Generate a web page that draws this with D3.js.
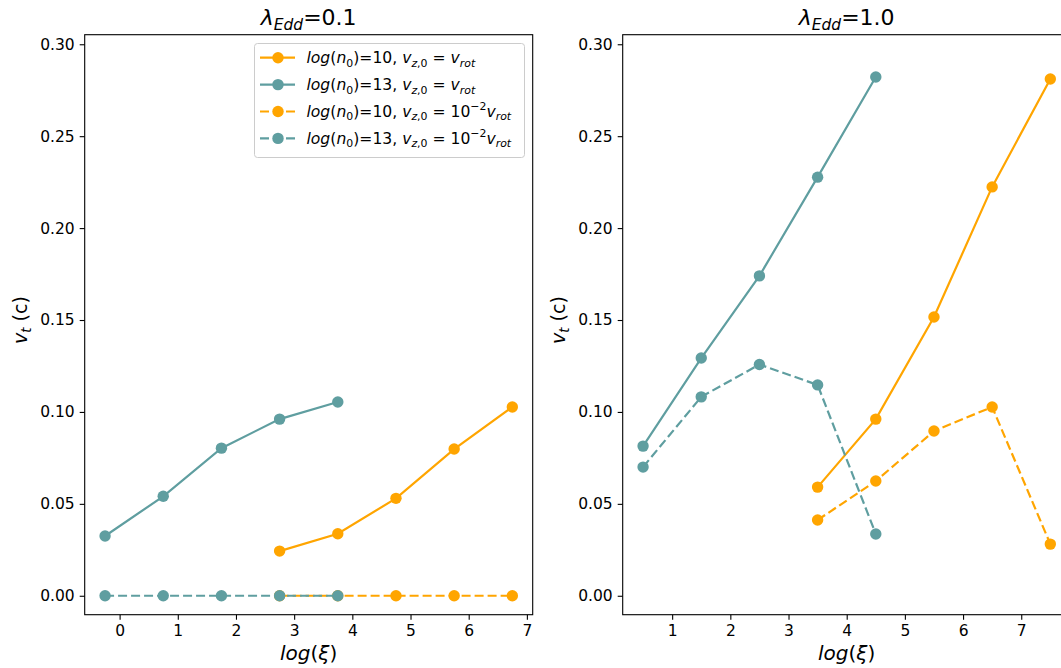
<!DOCTYPE html>
<html>
<head>
<meta charset="utf-8">
<script src="https://cdn.jsdelivr.net/npm/d3@7"></script>
<style>
  html, body { margin: 0; padding: 0; background: #fff; }
  svg { display: block; font-family: "DejaVu Sans", sans-serif; }
</style>
</head>
<body>
<svg id="fig" width="1061" height="668"></svg>
<script>
// Terminal velocity v_t (in units of c) against ionisation parameter log(xi)
// for two densities and two initial vertical velocities.

// --- lambda_Edd = 0.1 ---
const xiLeftN13 = [-0.25, 0.75, 1.75, 2.75, 3.75];
const xiLeftN10 = [2.75, 3.75, 4.75, 5.75, 6.75];
const leftN10Rot  = [0.0243, 0.0337, 0.0530, 0.0798, 0.1027];
const leftN13Rot  = [0.0325, 0.0541, 0.0803, 0.0961, 0.1054];
const leftN10Slow = [0, 0, 0, 0, 0];
const leftN13Slow = [0, 0, 0, 0, 0];

// --- lambda_Edd = 1.0 ---
const xiRightN13 = [0.5, 1.5, 2.5, 3.5, 4.5];
const xiRightN10 = [3.5, 4.5, 5.5, 6.5, 7.5];
const rightN10Rot  = [0.0591, 0.0961, 0.1516, 0.2224, 0.2811];
const rightN13Rot  = [0.0814, 0.1293, 0.1740, 0.2277, 0.2822];
const rightN10Slow = [0.0412, 0.0624, 0.0896, 0.1027, 0.0281];
const rightN13Slow = [0.0700, 0.1082, 0.1258, 0.1147, 0.0336];

const yTicks = [0, 0.05, 0.10, 0.15, 0.20, 0.25, 0.30];
const xTicksLeft = [0, 1, 2, 3, 4, 5, 6, 7];
const xTicksRight = [1, 2, 3, 4, 5, 6, 7];

const ORANGE = "#FFA500";
const TEAL = "#5F9EA0";

const svg = d3.select("#fig");

// Render a label mixing upright/italic runs with sub- and superscripts.
function mathText(textSel, parts, size) {
  let cur = 0;
  parts.forEach(p => {
    const target = p.pos === "sub" ? 0.22 * size : p.pos === "sup" ? -0.42 * size : 0;
    const fs = p.pos ? size * 0.7 : size;
    textSel.append("tspan")
      .attr("dy", target - cur)
      .attr("font-size", fs)
      .attr("font-style", p.it ? "italic" : "normal")
      .style("white-space", "pre")
      .text(p.t);
    cur = target;
  });
  return textSel;
}

const I = (t, pos) => ({ t, it: true, pos });
const U = (t, pos) => ({ t, it: false, pos });

function labelParts(n, slow) {
  const base = [I("log"), U("("), I("n"), U("0", "sub"), U(")"), U("=" + n + ", "),
                I("v"), I("z", "sub"), U(",0", "sub")];
  if (slow) return base.concat([U(" = 10"), U("\u22122", "sup"), I("v"), I("rot", "sub")]);
  return base.concat([U(" = "), I("v"), I("rot", "sub")]);
}

const series = [
  { color: ORANGE, dash: null, parts: labelParts(10, false) },
  { color: TEAL, dash: null, parts: labelParts(13, false) },
  { color: ORANGE, dash: "9,4", parts: labelParts(10, true) },
  { color: TEAL, dash: "9,4", parts: labelParts(13, true) }
];

const y = d3.scaleLinear().domain([-0.0103, 0.3052]).range([614.7, 34.7]);

function panel(cfg) {
  const x = d3.scaleLinear().domain(cfg.xDomain).range(cfg.xRange);
  const g = svg.append("g");

  const clipId = "clip" + cfg.id;
  svg.append("clipPath").attr("id", clipId)
    .append("rect").attr("x", cfg.xRange[0]).attr("y", 34.7)
    .attr("width", cfg.xRange[1] - cfg.xRange[0]).attr("height", 580);

  const plot = g.append("g").attr("clip-path", `url(#${clipId})`);
  const line = d3.line().x(d => x(d[0])).y(d => y(d[1]));

  cfg.data.forEach((s, i) => {
    const st = series[i];
    const pts = s.xs.map((v, k) => [v, s.ys[k]]);
    plot.append("path").datum(pts)
      .attr("d", line)
      .attr("fill", "none")
      .attr("stroke", st.color)
      .attr("stroke-width", 2.2)
      .attr("stroke-dasharray", st.dash);
    plot.selectAll(null).data(pts).enter().append("circle")
      .attr("cx", d => x(d[0])).attr("cy", d => y(d[1]))
      .attr("r", 5.7).attr("fill", st.color);
  });

  // axes
  const xAxis = d3.axisBottom(x).tickValues(cfg.xTicks).tickFormat(d3.format("d"))
    .tickSize(5).tickPadding(5);
  const yAxis = d3.axisLeft(y).tickValues(yTicks).tickFormat(d3.format(".2f"))
    .tickSize(5).tickPadding(5);

  const gx = g.append("g").attr("transform", "translate(0,614.7)").call(xAxis);
  const gy = g.append("g").attr("transform", `translate(${cfg.xRange[0]},0)`).call(yAxis);
  [gx, gy].forEach(a => {
    a.select(".domain").remove();
    a.selectAll("line").attr("stroke", "#000").attr("stroke-width", 1.1);
    a.selectAll("text").attr("font-size", 15.5).attr("fill", "#000")
      .attr("font-family", "DejaVu Sans");
  });

  // frame
  g.append("rect")
    .attr("x", cfg.xRange[0]).attr("y", 34.7)
    .attr("width", cfg.xRange[1] - cfg.xRange[0]).attr("height", 580)
    .attr("fill", "none").attr("stroke", "#000").attr("stroke-width", 1.1);

  const cx = (cfg.xRange[0] + cfg.xRange[1]) / 2;
  // title
  mathText(g.append("text").attr("x", cx).attr("y", 25).attr("text-anchor", "middle"),
    [I("\u03bb"), I("Edd", "sub"), U("=" + cfg.lambda)], 22);
  // x label
  mathText(g.append("text").attr("x", cx).attr("y", 660).attr("text-anchor", "middle"),
    [I("log"), U("("), I("\u03be"), U(")")], 20);
  // y label
  mathText(g.append("text")
      .attr("transform", `translate(${cfg.xRange[0] - 58},${y(0.15)}) rotate(-90)`)
      .attr("text-anchor", "middle"),
    [I("v"), I("t", "sub"), U(" (c)")], 19);

  return g;
}

const left = panel({
  id: "L", xDomain: [-0.6, 7.1], xRange: [84.7, 532.7], xTicks: xTicksLeft, lambda: "0.1",
  data: [
    { xs: xiLeftN10, ys: leftN10Rot },
    { xs: xiLeftN13, ys: leftN13Rot },
    { xs: xiLeftN10, ys: leftN10Slow },
    { xs: xiLeftN13, ys: leftN13Slow }
  ]
});

panel({
  id: "R", xDomain: [0.15, 7.85], xRange: [622.7, 1070.7], xTicks: xTicksRight, lambda: "1.0",
  data: [
    { xs: xiRightN10, ys: rightN10Rot },
    { xs: xiRightN13, ys: rightN13Rot },
    { xs: xiRightN10, ys: rightN10Slow },
    { xs: xiRightN13, ys: rightN13Slow }
  ]
});

// legend in the first panel
const lg = left.append("g");
lg.append("rect")
  .attr("x", 254.5).attr("y", 43.5).attr("width", 270).attr("height", 114)
  .attr("rx", 3).attr("fill", "#fff").attr("fill-opacity", 0.8)
  .attr("stroke", "#ccc").attr("stroke-width", 1);
series.forEach((s, i) => {
  const yy = 57.7 + i * 26.9;
  lg.append("line").attr("x1", 260).attr("x2", 295).attr("y1", yy).attr("y2", yy)
    .attr("stroke", s.color).attr("stroke-width", 2.2).attr("stroke-dasharray", s.dash);
  lg.append("circle").attr("cx", 278).attr("cy", yy).attr("r", 5.7).attr("fill", s.color);
  mathText(lg.append("text").attr("x", 306.5).attr("y", yy + 5.5), s.parts, 15.6);
});
</script>
</body>
</html>
